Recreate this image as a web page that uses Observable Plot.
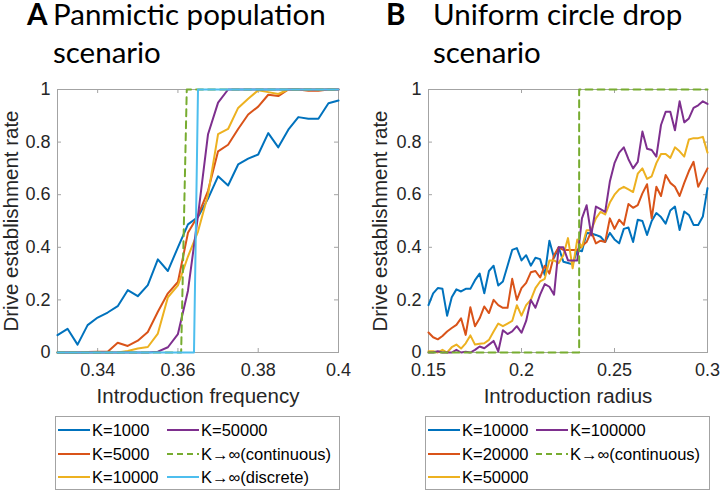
<!DOCTYPE html>
<html><head><meta charset="utf-8">
<script src="https://cdn.jsdelivr.net/npm/d3@7"></script>
<script src="https://cdn.jsdelivr.net/npm/@observablehq/plot@0.6"></script>
<style>
body{margin:0;background:#fff;}
#root{position:relative;width:722px;height:493px;overflow:hidden;background:#fff;font-family:"Liberation Sans",Arial,sans-serif;}
#root > *{position:absolute;}
</style></head><body><div id="root"></div>
<script>
// ---------- Panel A: panmictic population ----------
const titleA = ["Panmictic population", "scenario"];
const xA = [0.33,0.3325,0.335,0.3375,0.34,0.3425,0.345,0.3475,0.35,0.3525,0.355,0.3575,0.36,0.3625,0.365,0.3675,0.37,0.3725,0.375,0.3775,0.38,0.3825,0.385,0.3875,0.39,0.3925,0.395,0.3975,0.4];
const seriesA = ["K=1000","K=5000","K=10000","K=50000"];
const A_K1000  = [0.066,0.09,0.03,0.104,0.133,0.152,0.176,0.237,0.214,0.256,0.354,0.31,0.40,0.487,0.515,0.585,0.67,0.635,0.715,0.737,0.753,0.834,0.78,0.847,0.895,0.889,0.889,0.948,0.958];
const A_K5000  = [0,0,0,0.002,0.003,0.003,0.037,0.025,0.045,0.078,0.155,0.225,0.268,0.455,0.52,0.615,0.765,0.79,0.85,0.905,0.935,0.98,0.975,1,1,0.995,0.995,1,1];
const A_K10000 = [0,0,0,0,0,0,0,0.006,0.015,0.021,0.072,0.21,0.255,0.365,0.46,0.60,0.83,0.85,0.93,0.965,0.997,0.99,0.983,1,1,1,1,1,1];
const A_K50000 = [0,0,0,0,0,0,0,0,0,0,0.003,0.02,0.07,0.235,0.52,0.83,0.95,1,1,1,1,1,1,1,1,1,1,1,1];
const A_contX = [0.33,0.3608,0.3622,0.4];
const A_contY = [0,0,1,1];
const A_discX = [0.33,0.364,0.365,0.4];
const A_discY = [0,0,1,1];
const xTicksA = [0.34,0.36,0.38,0.4];
const xLabelA = "Introduction frequency";

// ---------- Panel B: uniform circle drop ----------
const titleB = ["Uniform circle drop", "scenario"];
const xB = [0.15,0.1525,0.155,0.1575,0.16,0.1625,0.165,0.1675,0.17,0.1725,0.175,0.1775,0.18,0.1825,0.185,0.1875,0.19,0.1925,0.195,0.1975,0.2,0.2025,0.205,0.2075,0.21,0.2125,0.215,0.2175,0.22,0.2225,0.225,0.2275,0.23,0.2325,0.235,0.2375,0.24,0.2425,0.245,0.2475,0.25,0.2525,0.255,0.2575,0.26,0.2625,0.265,0.2675,0.27,0.2725,0.275,0.2775,0.28,0.2825,0.285,0.2875,0.29,0.2925,0.295,0.2975,0.3];
const seriesB = ["K=10000","K=20000","K=50000","K=100000"];
const B_K10000  = [0.18,0.225,0.245,0.242,0.14,0.21,0.24,0.232,0.242,0.242,0.275,0.30,0.225,0.31,0.33,0.255,0.27,0.33,0.39,0.397,0.35,0.37,0.33,0.36,0.355,0.295,0.425,0.36,0.40,0.345,0.34,0.335,0.39,0.385,0.454,0.453,0.447,0.44,0.42,0.455,0.43,0.415,0.47,0.475,0.42,0.505,0.50,0.447,0.50,0.53,0.515,0.49,0.54,0.555,0.466,0.536,0.523,0.485,0.485,0.517,0.625];
const B_K20000  = [0.076,0.058,0.05,0.063,0.08,0.093,0.105,0.13,0.067,0.172,0.10,0.13,0.175,0.15,0.20,0.18,0.17,0.17,0.28,0.20,0.245,0.265,0.305,0.31,0.285,0.33,0.30,0.37,0.40,0.39,0.39,0.39,0.39,0.405,0.42,0.46,0.415,0.425,0.42,0.51,0.47,0.505,0.485,0.565,0.55,0.56,0.605,0.64,0.51,0.63,0.595,0.675,0.645,0.63,0.595,0.645,0.69,0.725,0.63,0.665,0.70];
const B_K50000  = [0.005,0.005,0,0.01,0,0.02,0.03,0.015,0.035,0.065,0.03,0.033,0.035,0.048,0.08,0.11,0.10,0.11,0.12,0.18,0.14,0.18,0.20,0.245,0.27,0.28,0.35,0.35,0.34,0.37,0.435,0.32,0.43,0.40,0.465,0.465,0.51,0.535,0.525,0.57,0.60,0.62,0.63,0.62,0.61,0.68,0.70,0.66,0.67,0.72,0.755,0.755,0.74,0.78,0.765,0.745,0.81,0.815,0.815,0.82,0.76];
const B_K100000 = [0,0,0.005,0,0,0,0.01,0,0.003,0,0.01,0.023,0.016,0.03,0.044,0.004,0.085,0.07,0.08,0.10,0.075,0.12,0.20,0.17,0.22,0.26,0.25,0.22,0.40,0.40,0.35,0.35,0.35,0.51,0.56,0.445,0.555,0.545,0.535,0.65,0.72,0.76,0.78,0.735,0.70,0.725,0.84,0.775,0.77,0.745,0.865,0.915,0.915,0.845,0.955,0.875,0.89,0.93,0.94,0.955,0.945];
const B_contX = [0.15,0.231,0.231,0.3];
const B_contY = [0,0,1,1];
const xTicksB = [0.15,0.2,0.25,0.3];
const xLabelB = "Introduction radius";

const yTicks = [0,0.2,0.4,0.6,0.8,1];
const yLabel = "Drive establishment rate";
const contLabel = "K\u2192\u221E(continuous)";
const discLabel = "K\u2192\u221E(discrete)";

// ---------- styles ----------
const C = {blue:"#0072BD", orange:"#D95319", yellow:"#EDB120", purple:"#7E2F8E", green:"#77AC30", cyan:"#4DBEEE"};
const BOX = "#a3a3a3", TXT = "#262626";
const FONT = "Liberation Sans, Arial, Helvetica, sans-serif";
const DASH = "7,5";

function rows(xs, ys){ return xs.map((x,i)=>({x, y: ys[i]})); }

function panel({xDomain, xTicks, xLabel, lines, overlays, mL, mR, yLabDx}){
  const W = 361, H = 320, mT = 9, mB = 48;
  const fw = W - mL - mR, fh = H - mT - mB, tl = 4;
  const innerX = xTicks.filter(t => t > xDomain[0] && t < xDomain[1]);
  const innerY = yTicks.filter(t => t > 0 && t < 1);
  return Plot.plot({
    width: W, height: H, marginLeft: mL, marginRight: mR, marginTop: mT, marginBottom: mB,
    x: {domain: xDomain}, y: {domain: [0,1]},
    style: {fontFamily: FONT, color: TXT, background: "transparent", overflow: "visible"},
    marks: [
      Plot.frame({stroke: BOX, strokeWidth: 1}),
      Plot.tickX(innerX, {x: d=>d, stroke: BOX, insetTop: fh - tl}),
      Plot.tickX(innerX, {x: d=>d, stroke: BOX, insetBottom: fh - tl}),
      Plot.tickY(innerY, {y: d=>d, stroke: BOX, insetRight: fw - tl}),
      Plot.tickY(innerY, {y: d=>d, stroke: BOX, insetLeft: fw - tl}),
      ...lines.map(l => Plot.line(rows(l.x, l.y), {x:"x", y:"y", stroke: l.c, strokeWidth: 2, strokeDasharray: l.dash})),
      ...overlays.map(l => Plot.line(rows(l.x, l.y), {x:"x", y:"y", stroke: l.c, strokeWidth: 2, strokeDasharray: l.dash})),
      Plot.axisX({ticks: xTicks, tickSize: 0, tickPadding: 11, tickFormat: d => String(d), fontSize: 18, label: null}),
      Plot.axisY({ticks: yTicks, tickSize: 0, tickPadding: 7, tickFormat: d => String(d), fontSize: 18, label: null}),
      Plot.text([xLabel], {text: d=>d, frameAnchor: "bottom", textAnchor: "middle", dy: 44, lineAnchor: "middle", fontSize: 20.5, fill: TXT}),
      Plot.text([yLabel], {text: d=>d, frameAnchor: "left", textAnchor: "middle", dx: yLabDx, rotate: -90, lineAnchor: "middle", fontSize: 20.5, fill: TXT})
    ]
  });
}

const root = document.getElementById("root");

const pA = panel({
  xDomain: [0.33, 0.4], xTicks: xTicksA, xLabel: xLabelA, mL: 57, mR: 23, yLabDx: -46,
  lines: [
    {x: xA, y: A_K1000, c: C.blue},
    {x: xA, y: A_K5000, c: C.orange},
    {x: xA, y: A_K10000, c: C.yellow},
    {x: xA, y: A_K50000, c: C.purple}
  ],
  overlays: [
    {x: A_contX, y: A_contY, c: C.green, dash: DASH},
    {x: A_discX, y: A_discY, c: C.cyan}
  ]
});
pA.style.left = "0px"; pA.style.top = "80px";
root.appendChild(pA);

const pB = panel({
  xDomain: [0.15, 0.3], xTicks: xTicksB, xLabel: xLabelB, mL: 67, mR: 15, yLabDx: -48,
  lines: [
    {x: xB, y: B_K10000, c: C.blue},
    {x: xB, y: B_K20000, c: C.orange},
    {x: xB, y: B_K50000, c: C.yellow},
    {x: xB, y: B_K100000, c: C.purple}
  ],
  overlays: [
    {x: B_contX, y: B_contY, c: C.green, dash: DASH}
  ]
});
pB.style.left = "361px"; pB.style.top = "80px";
root.appendChild(pB);

// ---------- titles ----------
const tsvg = d3.create("svg").attr("width", 722).attr("height", 80)
  .style("left","0px").style("top","0px").style("overflow","visible")
  .style("font-family","Lato, 'Open Sans', sans-serif").style("font-size","29.5px").attr("fill","#000");
function title(letter, lx, tx, lines){
  tsvg.append("text").attr("x", lx).attr("y", 25).attr("font-weight","bold").text(letter);
  lines.forEach((t,i)=> tsvg.append("text").attr("x", tx).attr("y", 25 + 38*i).text(t));
}
title("A", 27, 53, titleA);
title("B", 386, 433, titleB);
root.appendChild(tsvg.node());

// ---------- legends ----------
function legend(left, entries, col2x){
  const s = d3.create("svg").attr("width", 286).attr("height", 75)
    .style("left", left+"px").style("top","416px")
    .style("font-family", FONT).style("font-size","16.5px");
  s.append("rect").attr("x",0.5).attr("y",0.5).attr("width",284).attr("height",73).attr("fill","#fff").attr("stroke",BOX);
  const rowsY = [14, 38, 61];
  entries.forEach((e,i)=>{
    const col = Math.floor(i/3), r = i%3;
    const x0 = col === 0 ? 3 : col2x;
    s.append("line").attr("x1",x0).attr("x2",x0+32).attr("y1",rowsY[r]).attr("y2",rowsY[r])
      .attr("stroke", e.c).attr("stroke-width",2).attr("stroke-dasharray", e.dash || null);
    s.append("text").attr("x", x0+34).attr("y", rowsY[r]).attr("dy","0.35em").attr("fill","#000").text(e.t);
  });
  root.appendChild(s.node());
}
legend(55, [
  {t: seriesA[0], c: C.blue}, {t: seriesA[1], c: C.orange}, {t: seriesA[2], c: C.yellow},
  {t: seriesA[3], c: C.purple}, {t: contLabel, c: C.green, dash: "6,4"}, {t: discLabel, c: C.cyan}
], 112);
legend(425, [
  {t: seriesB[0], c: C.blue}, {t: seriesB[1], c: C.orange}, {t: seriesB[2], c: C.yellow},
  {t: seriesB[3], c: C.purple}, {t: contLabel, c: C.green, dash: "6,4"}
], 111);
</script></body></html>
